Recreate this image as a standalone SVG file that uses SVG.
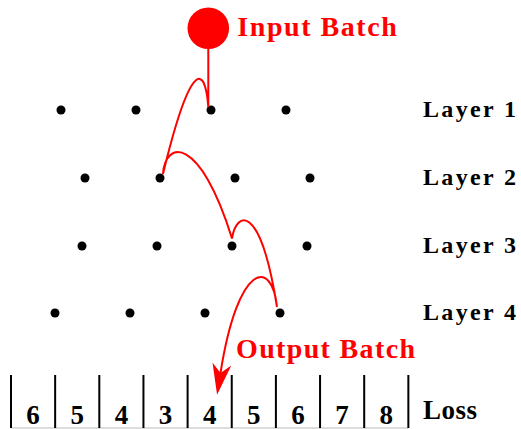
<svg xmlns="http://www.w3.org/2000/svg" width="521" height="429" viewBox="0 0 521 429">
<style>
.dot{fill:#000}
.lbl{font-family:"Liberation Serif",serif;font-weight:bold;fill:#000}
.red{font-family:"Liberation Serif",serif;font-weight:bold;fill:#ff0000}
.flow{fill:none;stroke:#ff0000;stroke-width:2}
.bar{stroke:#000;stroke-width:2}
.num{font-family:"Liberation Serif",serif;font-weight:bold;font-size:27px;fill:#000;text-anchor:middle}
</style>
<defs>
<marker id="stealth" viewBox="0 -10 32 20" markerWidth="32" markerHeight="20" refX="9" refY="0" orient="auto" markerUnits="userSpaceOnUse">
<path d="M0,-9.5 L31,0 L0,9.5 L9,0 Z" fill="#ff0000"/>
</marker>
</defs>
<rect width="521" height="429" fill="#fff"/>
<g id="input">
<circle cx="208.3" cy="28.2" r="20.8" fill="#ff0000"/>
<text class="red" x="237.3" y="36" font-size="28" textLength="159.5" lengthAdjust="spacing">Input Batch</text>
</g>
<g id="layer1">
<circle class="dot" cx="61" cy="110" r="4.5"/><circle class="dot" cx="136" cy="110" r="4.5"/><circle class="dot" cx="211" cy="110" r="4.5"/><circle class="dot" cx="286" cy="110" r="4.5"/>
<text class="lbl" x="423" y="117" font-size="24" textLength="93" lengthAdjust="spacing">Layer 1</text>
</g>
<g id="layer2">
<circle class="dot" cx="85" cy="178" r="4.5"/><circle class="dot" cx="160" cy="178" r="4.5"/><circle class="dot" cx="235" cy="178" r="4.5"/><circle class="dot" cx="310" cy="178" r="4.5"/>
<text class="lbl" x="423" y="185" font-size="24" textLength="93" lengthAdjust="spacing">Layer 2</text>
</g>
<g id="layer3">
<circle class="dot" cx="82" cy="246" r="4.5"/><circle class="dot" cx="157" cy="246" r="4.5"/><circle class="dot" cx="232" cy="246" r="4.5"/><circle class="dot" cx="307" cy="246" r="4.5"/>
<text class="lbl" x="423" y="253" font-size="24" textLength="93" lengthAdjust="spacing">Layer 3</text>
</g>
<g id="layer4">
<circle class="dot" cx="55" cy="313" r="4.5"/><circle class="dot" cx="130" cy="313" r="4.5"/><circle class="dot" cx="205" cy="313" r="4.5"/><circle class="dot" cx="280" cy="313" r="4.5"/>
<text class="lbl" x="423" y="320" font-size="24" textLength="93" lengthAdjust="spacing">Layer 4</text>
</g>
<g id="output">
<text class="red" x="236" y="358" font-size="28" textLength="179" lengthAdjust="spacing">Output Batch</text>
</g>
<g id="loss">
<line x1="11" y1="428" x2="408.4" y2="428" stroke="#bbbbbb" stroke-width="1"/>
<line class="bar" x1="11" y1="375" x2="11" y2="428"/>
<line class="bar" x1="55.15" y1="375" x2="55.15" y2="428"/>
<line class="bar" x1="99.3" y1="375" x2="99.3" y2="428"/>
<line class="bar" x1="143.45" y1="375" x2="143.45" y2="428"/>
<line class="bar" x1="187.6" y1="375" x2="187.6" y2="428"/>
<line class="bar" x1="231.75" y1="375" x2="231.75" y2="428"/>
<line class="bar" x1="275.9" y1="375" x2="275.9" y2="428"/>
<line class="bar" x1="320.05" y1="375" x2="320.05" y2="428"/>
<line class="bar" x1="364.2" y1="375" x2="364.2" y2="428"/>
<line class="bar" x1="408.35" y1="375" x2="408.35" y2="428"/>
<text class="num" x="33.1" y="424">6</text>
<text class="num" x="77.2" y="424">5</text>
<text class="num" x="121.4" y="424">4</text>
<text class="num" x="165.5" y="424">3</text>
<text class="num" x="209.7" y="424">4</text>
<text class="num" x="253.8" y="424">5</text>
<text class="num" x="298" y="424">6</text>
<text class="num" x="342.1" y="424">7</text>
<text class="num" x="386.3" y="424">8</text>
<text class="lbl" x="423" y="418.5" font-size="27" textLength="54" lengthAdjust="spacing">Loss</text>
</g>
<g id="connectors">
<path class="flow" marker-end="url(#stealth)" d="M208.3,49 L208.3,107 C205,62 190,62 163,174 C165,140 200,135 232,238.5 C236,212 260,200 277,307 C272,258 238,262 220.5,373"/>
</g>
</svg>
